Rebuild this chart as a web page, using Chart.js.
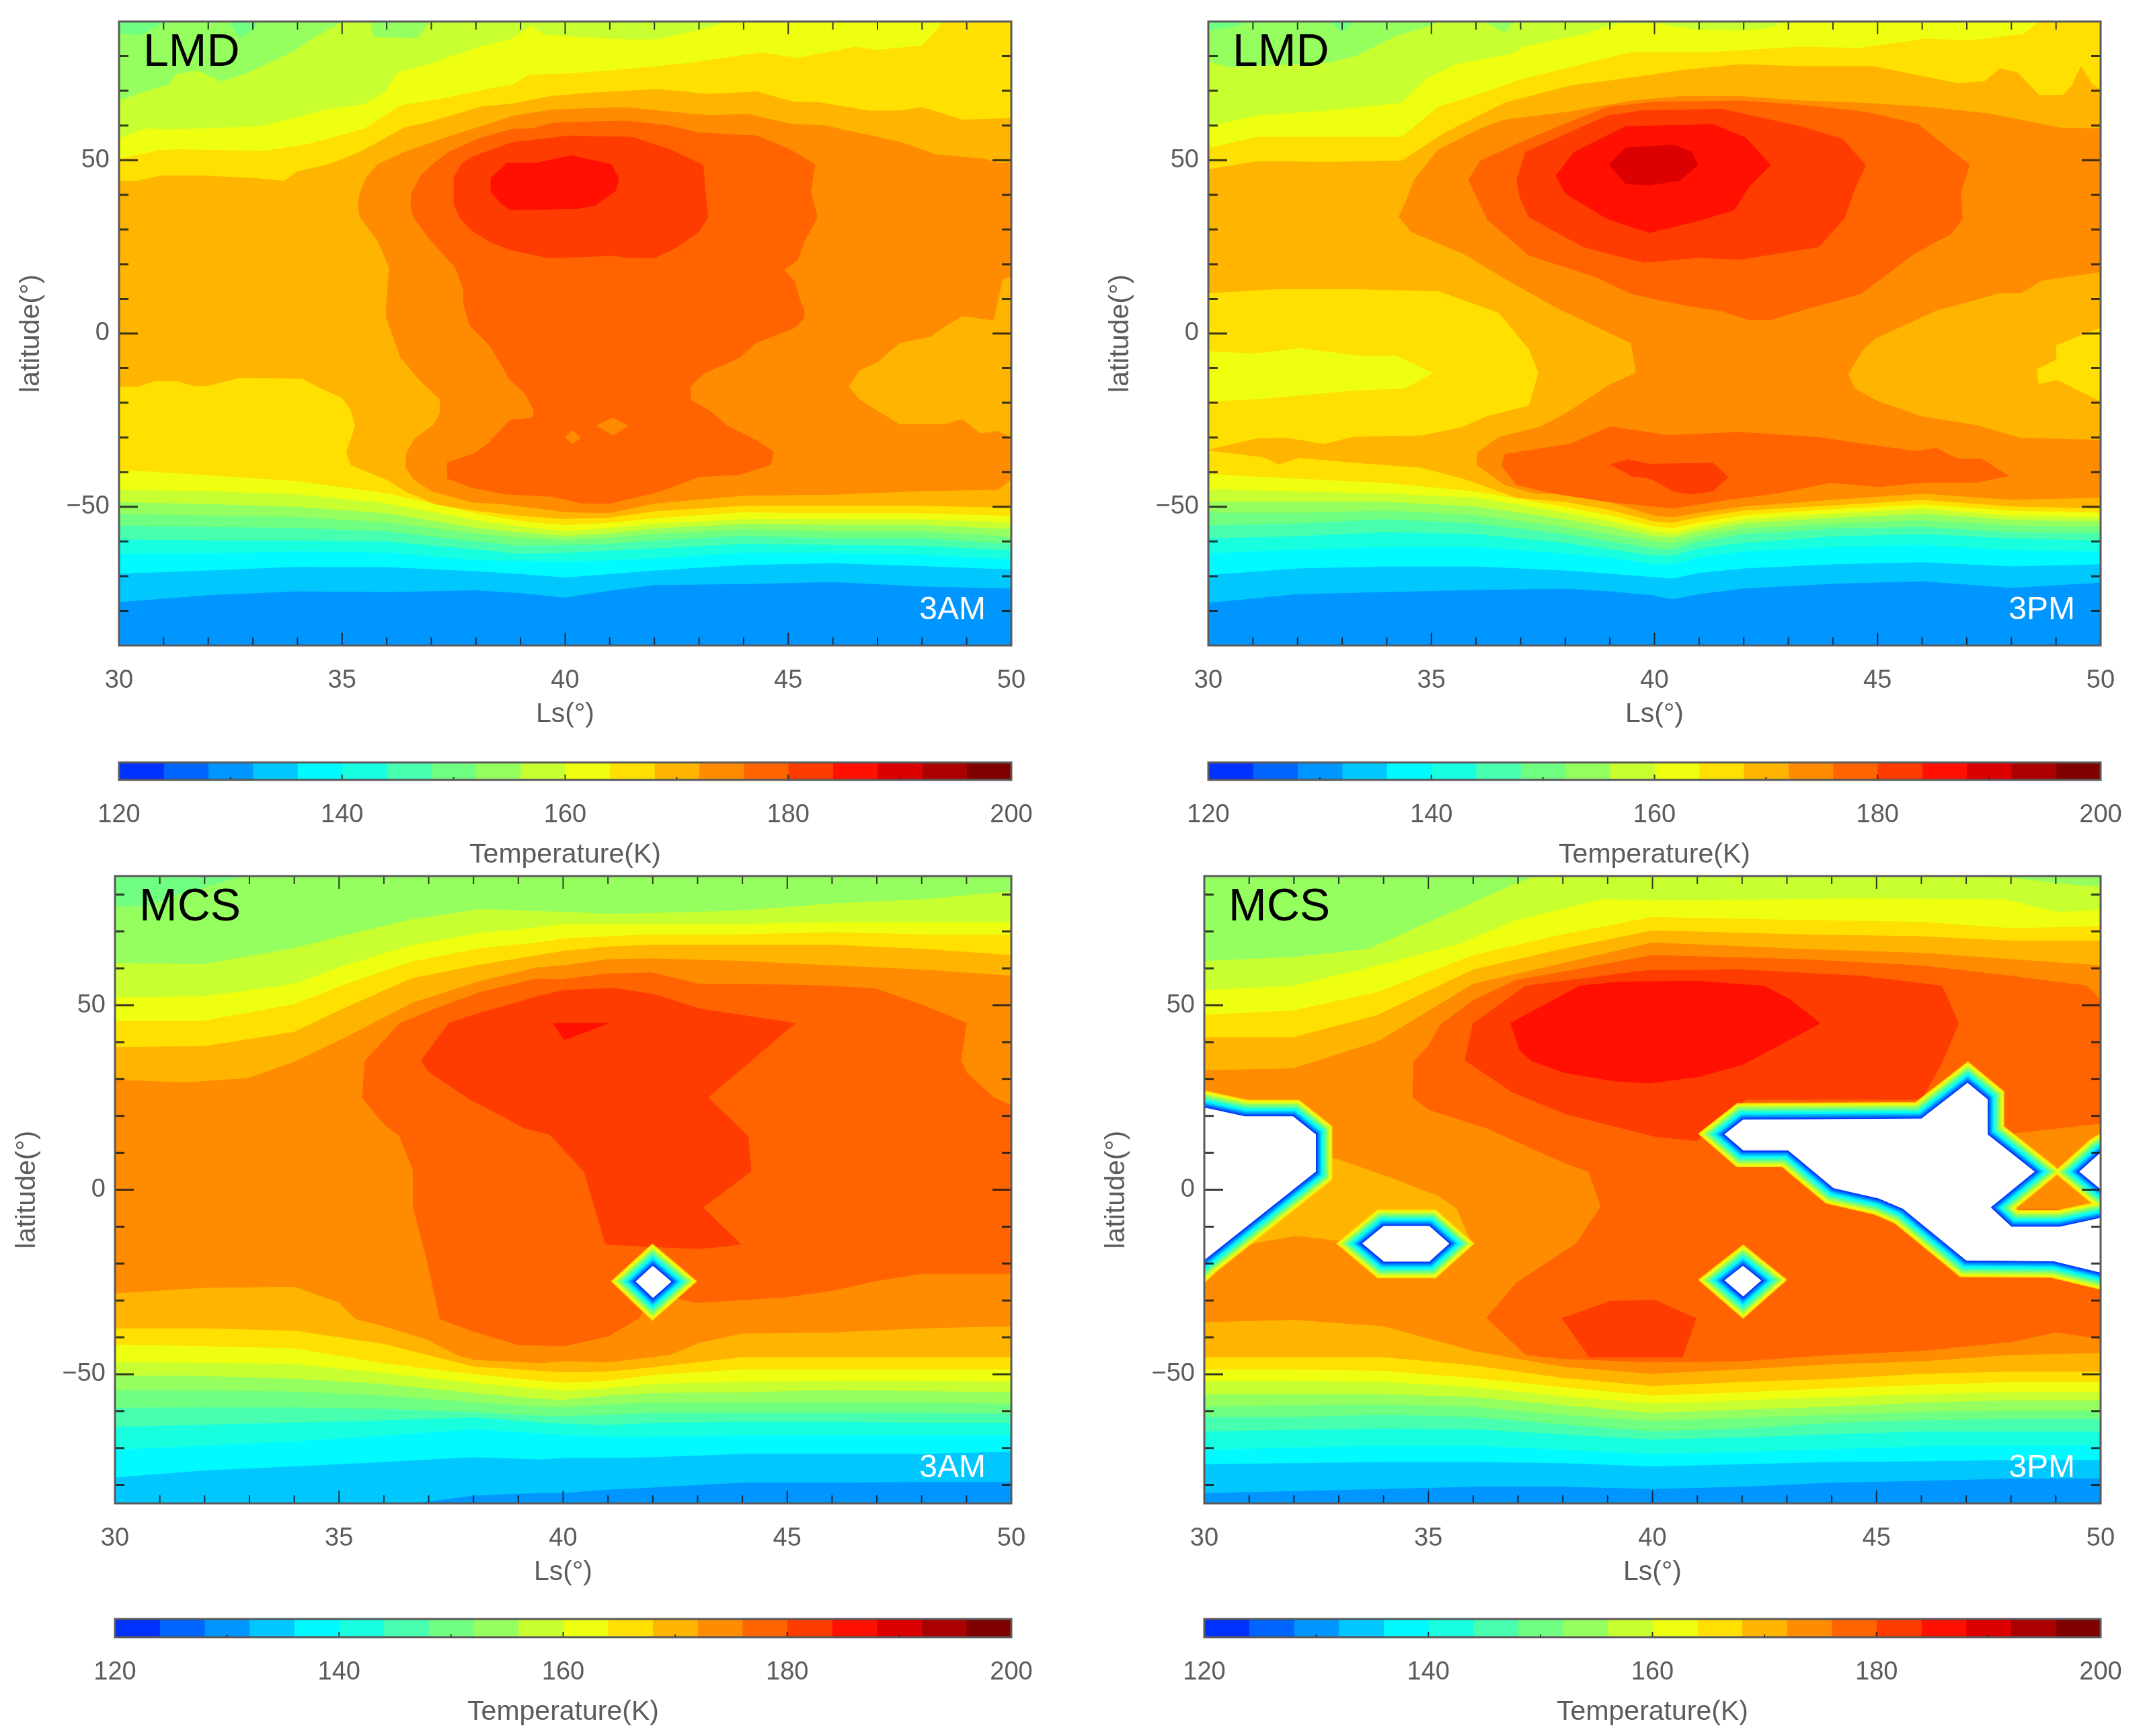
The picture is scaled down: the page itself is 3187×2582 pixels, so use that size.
<!DOCTYPE html>
<html>
<head>
<meta charset="utf-8">
<title>LMD / MCS temperature</title>
<script src="https://cdn.jsdelivr.net/npm/chart.js@4"></script>
<style>
  html, body { margin: 0; background: #fff; }
  canvas { position: absolute; }
</style>
</head>
<body>
<script>
/* =============================
   AXES AND COLOUR BANDS
============================= */
const lsTicks = [30, 35, 40, 45, 50];
const lsMinor = [31, 32, 33, 34, 36, 37, 38, 39, 41, 42, 43, 44, 46, 47, 48, 49];
const latTicks = [-50, 0, 50];
const latMinor = [-80, -70, -60, -40, -30, -20, -10, 10, 20, 30, 40, 60, 70, 80];
const tempTicks = [120, 140, 160, 180, 200];
const tempMinor = [130, 150, 170, 190];
const bandLevels = [120, 124, 128, 132, 136, 140, 144, 148, 152, 156, 160, 164, 168, 172, 176, 180, 184, 188, 192, 196];
const bandColors = ["#0032ff", "#0064ff", "#0096ff", "#00c8ff", "#00faff", "#18ffe0", "#48ffb0", "#70ff80", "#96ff60", "#c8ff30",
  "#eeff10", "#ffe000", "#ffb400", "#ff8c00", "#ff6400", "#ff3c00", "#ff1000", "#dc0000", "#aa0000", "#800000"];

/* =============================
   LMD 3AM  (contours: Ls, latitude)
============================= */
const lmdAmLs = [30, 32, 34, 36, 38, 39, 40, 41, 42, 44, 46, 48, 50];
const lmdAmSouth = [
  [132, -77.4, -75.4, -74.3, -74.5, -74, -74.8, -76.1, -74.1, -72.5, -72.2, -71.6, -72.9, -73.5],
  [136, -69.2, -68.3, -67.2, -67.3, -68.5, -69.3, -70.3, -69.3, -68.3, -66.7, -66.2, -67, -68],
  [140, -63.5, -63.3, -62.8, -63.1, -65.3, -65.5, -65.7, -65.4, -64.8, -63.2, -63.2, -63.8, -65.1],
  [144, -59.3, -59.6, -59.6, -59.9, -62.2, -63.5, -63.2, -62.5, -61.9, -60.6, -60.9, -61.2, -62.5],
  [148, -55.4, -55.7, -56, -57, -59.9, -61.2, -60.9, -60.6, -59.6, -58.3, -59, -59, -60.6],
  [152, -52, -52.4, -52.8, -54.4, -57.6, -58.9, -59.5, -58.8, -57.7, -56.4, -57, -57, -58.6],
  [156, -48.6, -49.1, -49.9, -51.8, -56, -57.3, -58.3, -57.5, -56.2, -54.8, -55.1, -55.1, -56.4],
  [160, -45, -45.4, -46.3, -48.9, -53.8, -55.6, -57, -56, -54.8, -53.5, -53.5, -53.5, -54.4],
  [164, -39.2, -40.8, -42.5, -46, -51.8, -54, -55.2, -54.5, -53.2, -51.5, -51.8, -51.8, -52.5]
];
const lmdAmNorth = {
  152: [30, 86.5, 30.5, 86, 31, 89.5, 31.3, 91, 32.4, 91, 32.7, 85, 33, 87.5, 33.2, 91, 50, 91],
  156: [30, 67, 30.56, 69.7, 31.1, 71.6, 31.3, 74.8, 31.75, 75.8, 32.3, 72.6, 32.9, 75.2, 33.9, 81.2, 34.25, 84.3, 35, 89.9, 35.2, 91, 35.6, 91, 35.7, 85.5, 36.7, 85, 37, 91, 50, 91],
  160: [30, 56.2, 30.6, 59, 31.3, 58.8, 33.2, 59.8, 33.95, 62.2, 34.6, 64.5, 35.5, 66.1, 35.95, 69.3, 36.25, 75.2, 36.95, 77.6, 38.1, 82.7, 38.8, 84.9, 39.25, 88.8, 39.5, 86.2, 40.6, 85.2, 41.7, 84.6, 42.1, 84.9, 43.2, 88.1, 43.9, 91, 50, 91],
  164: [30, 50.3, 30.9, 52.8, 31.3, 53, 33.25, 52.6, 34.25, 54.6, 35.5, 59, 36.3, 65.7, 37.25, 67.7, 38.3, 70.5, 38.8, 71.6, 39.2, 74.6, 40.1, 74.9, 41, 75.8, 41.9, 76.8, 42.9, 78.1, 44.4, 81, 45.2, 79.4, 46.5, 82.6, 47, 81.7, 48, 83, 48.4, 88.5, 48.45, 91, 50, 91]
};
const lmdAmShapes = [
  [168, [30, -15.3, 30.4, -15.3, 30.8, -13.7, 31.3, -13.7, 31.7, -15.1, 32, -15, 32.7, -12.7, 34.1, -12.9, 34.5, -15.6, 35, -18.5, 35.2, -22.1, 35.3, -26.6, 35.1, -34.4, 35.2, -37.9, 36, -42.1, 36.4, -45.4, 37.1, -49.2, 37.9, -50.9, 39, -52.5, 39.7, -53.2, 40, -53.4, 41, -53, 42, -51.2, 44, -49.6, 46, -49.6, 48, -49.6, 50, -50.2],
    [30, 43.9, 30.4, 43.9, 30.95, 45.5, 31.8, 45.5, 33.1, 44.7, 33.7, 43.9, 34, 46.7, 34.7, 48.7, 35.4, 52.3, 36.4, 59.4, 36.95, 60.9, 38.1, 65.3, 38.8, 66.2, 39.7, 68.4, 40.6, 69.4, 42.1, 70.4, 43.2, 69, 44.3, 69.7, 45.1, 66.8, 45.7, 66.6, 46.8, 64.2, 47.5, 64.2, 48, 65.2, 48.9, 61.6, 50, 62]],
  [172, [50, 49.4, 49.75, 49, 49.4, 50.3, 48.3, 51.6, 47.5, 55.2, 45.8, 60, 45.1, 60.3, 44.1, 63.2, 43.2, 62.9, 41.3, 65.2, 39.7, 64.5, 38.8, 62.6, 38.5, 61.3, 37.4, 56.8, 36.46, 52.6, 35.8, 48.8, 35.55, 45, 35.4, 40.5, 35.36, 37, 35.4, 33.6, 35.8, 26.7, 36.06, 19, 36, 9.3, 36, 4.5, 36.3, -6.6, 36.7, -12.9, 37.2, -19.1, 37.2, -22.9, 37.05, -26.4, 36.64, -30.2, 36.45, -34.3, 36.42, -38.5, 36.6, -42, 37, -45.4, 37.9, -48.6, 38.6, -49.2, 39.7, -50.9, 40, -51.5, 41, -51.7, 42, -49, 44, -46.7, 46, -46.4, 48, -45.4, 49.7, -45, 50, -42, 50, -30.2, 49.7, -28.2, 49.3, -28.9, 48.9, -24.8, 48.5, -26.3, 47.5, -26.3, 46.6, -19.2, 46.35, -15.3, 46.6, -10.5, 47, -8.2, 47.5, -2.7, 48.2, -0.8, 48.5, 2, 48.9, 5.1, 49.6, 3.9, 49.8, 15.7, 50, 16.5]],
  [176, [36.73, 45, 37.03, 48.8, 37.39, 52.3, 38.04, 56.1, 38.8, 58.9, 39.27, 59.1, 39.77, 60.8, 41.36, 61.3, 42.3, 60, 42.95, 58, 43.8, 57.3, 44.3, 57, 45, 53.3, 45.6, 48.8, 45.5, 40.9, 45.65, 33.6, 45.36, 26.6, 45.2, 21.1, 44.9, 18.3, 45.15, 14.9, 45.25, 10, 45.36, 6.5, 45.34, 4.1, 45.15, 1.7, 44.3, -2.5, 43.9, -7, 43.1, -11.5, 42.8, -15.3, 42.8, -19.1, 43.27, -22.6, 43.6, -26.4, 44.3, -30.9, 44.67, -34.2, 44.6, -37.9, 43.9, -40.7, 43, -41.3, 42.3, -44.7, 42, -46, 41, -49, 40.4, -49, 39.7, -47, 38.64, -46.3, 37.9, -44.4, 37.36, -41.8, 37.36, -37.3, 37.95, -34.7, 38.27, -31.8, 38.76, -25, 39.27, -24.4, 39.3, -22.2, 39.12, -17.7, 38.76, -13.2, 38.33, -3.8, 37.86, 2.4, 37.72, 8.6, 37.72, 12.8, 37.54, 19, 36.96, 27.3, 36.6, 33.6, 36.54, 37.7, 36.56, 40.5]],
  [172, [40.7, -26.6, 41.07, -24.4, 41.4, -26.6, 41.07, -29.4]],
  [172, [40.16, -27.8, 40.34, -30.2, 40.16, -31.8, 40, -29.9]],
  [180, [37.5, 45, 37.68, 48.8, 37.86, 50.6, 38.8, 55.1, 39.5, 56.1, 40.06, 57, 41.5, 56.6, 42.37, 53, 43.09, 48.5, 43.13, 41.9, 43.2, 33.6, 43, 29.4, 42.5, 24.9, 42, 21.8, 41.4, 21.9, 41.07, 22.5, 40.35, 22.1, 39.63, 21.8, 38.76, 24.2, 38.33, 26.3, 37.9, 29.8, 37.65, 33.2, 37.5, 37.4]],
  [184, [38.33, 44.7, 38.69, 49.2, 39.38, 49.2, 40.13, 51.3, 41.03, 48.8, 41.2, 44.7, 41.13, 41.2, 40.67, 37, 40.28, 36, 38.76, 35.7, 38.55, 37.7, 38.33, 40.9]]
];

/* =============================
   LMD 3PM
============================= */
const lmdPmLs = [30, 32, 34, 36, 38, 39, 40, 40.4, 41, 42, 44, 46, 48, 50];
const lmdPmSouth = [
  [132, -77.6, -75.1, -74.5, -73.9, -73.5, -74.3, -75.5, -76.6, -75.1, -73.5, -72.1, -71.4, -73.3, -71.8],
  [136, -69.6, -67.7, -67.1, -67.1, -68.3, -69.2, -70.2, -70.6, -69, -67.7, -66.5, -65.9, -67.1, -66.5],
  [140, -63.4, -62.2, -61.5, -61.5, -63.4, -64.6, -66.5, -66.5, -64.4, -62.8, -61.5, -60.9, -62.4, -62.8],
  [144, -59, -58.4, -57.2, -57.8, -60.3, -62.2, -64, -64, -61.9, -60.3, -58.4, -57.8, -59, -59.7],
  [148, -55.3, -54.7, -53.5, -54.7, -57.8, -59.9, -61.9, -62.2, -59.9, -57.8, -56.2, -55.7, -57.2, -57.5],
  [152, -51.6, -51.6, -51, -52.3, -55.7, -57.8, -59.9, -60.3, -58.4, -56.2, -54.7, -53.7, -55.3, -55.7],
  [156, -48.5, -48.5, -48.5, -49.8, -53.5, -55.7, -58.4, -58.7, -57, -54.7, -53.1, -51.9, -53.7, -54.1],
  [160, -44.8, -45.5, -46.1, -47.3, -51.6, -54.1, -57, -57.5, -55.7, -53.5, -51.9, -50.4, -52.5, -52.9],
  [164, -40.5, -41.8, -43, -45.5, -50, -52.3, -55.6, -56, -54.5, -52.3, -50.6, -49.2, -51, -51.6]
];
const lmdPmNorth = {
  152: [30, 87.5, 30.55, 88.2, 31.09, 91, 32.6, 91, 33, 86.9, 33.4, 91, 50, 91],
  156: [30, 78.3, 30.48, 76.7, 32.7, 78, 33.33, 80.1, 34.2, 85.7, 35, 88.8, 35.29, 91, 36.1, 91, 36.64, 86.5, 36.91, 91, 50, 91],
  160: [30, 59.7, 31.09, 62.8, 32.72, 64.3, 34.34, 66.5, 34.88, 73.3, 35.56, 77.6, 36.84, 80.7, 37.05, 82.6, 38.4, 86.3, 39.21, 89.4, 40, 89.4, 40.97, 87.5, 42.05, 87.3, 42.73, 88.5, 42.93, 91, 50, 91],
  164: [30, 53.5, 31.09, 56.6, 32.72, 56.6, 34.34, 56.6, 35.15, 65.3, 36.37, 70.2, 36.91, 72.9, 39.48, 81.1, 41.24, 81.1, 43.27, 82.6, 44.62, 82.3, 46.11, 85, 47.06, 84.4, 48.28, 86.3, 48.62, 90, 48.63, 91, 50, 91]
};
const lmdPmShapes = [
  [168, [30, -33.7, 31.23, -35.6, 31.57, -37.7, 32.04, -35.8, 33.26, -37.2, 34.75, -38.6, 35.69, -41.7, 36.91, -47.3, 38, -48.5, 39, -50.8, 40, -54.1, 40.4, -54.5, 41, -52.9, 42, -51, 44, -49.5, 46, -47.9, 48, -49.8, 50, -50.4],
    [30, 47.3, 31.09, 49.6, 32.72, 49.4, 34.34, 49.8, 35.29, 57.8, 36.64, 66.5, 38.13, 71.5, 39.48, 73.7, 40.57, 75.8, 41.92, 77.6, 43.27, 77, 44.9, 77, 46.11, 73.9, 46.8, 72.1, 47.4, 72.7, 47.74, 76.4, 48.14, 75.2, 48.62, 68.7, 49.16, 68.7, 49.36, 71.5, 49.56, 77, 49.79, 72.1, 50, 70.2]],
  [172, [50, 59.1, 49.09, 59.3, 48.48, 60.9, 47.47, 63.4, 46.11, 65.3, 44.62, 66.5, 43.27, 67.1, 41.92, 68.4, 40.57, 68.4, 39.48, 67.1, 38.13, 64, 36.64, 61.6, 36.1, 59.1, 35.15, 52.9, 34.61, 44.2, 34.41, 37.4, 34.27, 33.7, 34.54, 29.4, 35.69, 23.2, 36.91, 13.9, 37.86, 7.1, 38.67, 2.2, 39.48, -2.8, 39.59, -11.4, 39, -14.8, 38, -23.2, 37.45, -26.9, 36.5, -30, 36.03, -34.3, 36.03, -38, 36.64, -43.6, 37.32, -46.1, 38, -46.2, 39, -48.5, 40, -52.5, 40.4, -52.9, 41, -51.6, 42, -49.8, 44, -47.9, 46, -46.1, 48, -47.9, 50, -47.3]],
  [164, [30, 11.5, 31.5, 12.7, 33.26, 12.7, 35.15, 12.1, 36.5, 5.9, 37.18, -4.6, 37.39, -11.4, 37.18, -20.7, 36.24, -23.8, 35.69, -26.9, 34.75, -29.4, 33.26, -29.7, 32.58, -31.8, 31.77, -30, 31.09, -30.2, 30.55, -31.8, 30, -33.4]],
  [160, [30, -5.2, 31.03, -5.9, 32.04, -4.3, 33.39, -6.5, 34.2, -6.5, 35.02, -11.4, 34.41, -15.8, 33.26, -16.4, 31.09, -18.9, 30, -19.5]],
  [168, [50, 17.6, 48.7, 15.2, 48.21, 11.5, 47.74, 11.5, 46.32, 6.5, 44.96, -1.5, 44.69, -4.6, 44.35, -11.7, 44.49, -15.8, 45.03, -19.5, 45.98, -23.8, 47.2, -26.3, 48.21, -30, 50, -30.6]],
  [164, [50, 1.6, 49.02, -3.4, 49.02, -7.5, 48.58, -10.4, 48.62, -14.5, 49.02, -13.3, 50, -19.5]],
  [176, [35.83, 44.2, 36.1, 49.8, 37.05, 55.4, 37.86, 59.7, 38.94, 65.3, 40.02, 66.8, 41.92, 67.1, 43.27, 65.9, 44.76, 63.8, 45.91, 60.3, 47.06, 48.6, 46.86, 40.5, 46.9, 33.1, 46.65, 28.8, 45.84, 23.2, 44.63, 11.5, 43.41, 7.1, 42.6, 4, 42.12, 4, 41.51, 6.5, 40.57, 8.4, 39.48, 11.5, 38.67, 16.4, 37.18, 22.6, 36.24, 33.1]],
  [176, [36.57, -38, 36.91, -43.6, 37.72, -46.1, 38.94, -48.5, 40.43, -50.4, 41.65, -47.9, 42.73, -46.1, 43.95, -43, 45.03, -44.2, 45.98, -43, 47.2, -43, 47.94, -41.1, 47.33, -36.2, 46.79, -36.2, 46.32, -33.1, 45.84, -34, 44.63, -31.8, 43.68, -30, 41.92, -28.5, 40.3, -29.4, 39.01, -26.9, 38.13, -31.8, 36.64, -34.9]],
  [180, [36.91, 44.2, 37.11, 52.3, 37.86, 56.6, 38.94, 62.8, 39.75, 64.3, 41.51, 64.7, 43.27, 59.7, 44.22, 56, 44.73, 48.6, 44.49, 41.8, 44.25, 33.1, 43.68, 25, 41.92, 21.4, 40.97, 21.9, 39.75, 20.5, 38.4, 25, 37.18, 33.7, 36.98, 39.3]],
  [180, [39.01, -37.8, 39.42, -36.4, 39.89, -37.7, 41.31, -37.4, 41.65, -41.4, 41.31, -45.5, 40.84, -46.3, 40.43, -45.5, 39.89, -41.7, 39.48, -41.1]],
  [184, [37.79, 45.5, 38.2, 52.3, 39.35, 59.7, 41.31, 60.3, 42.05, 56.4, 42.6, 48.6, 42.12, 42.4, 41.78, 35.6, 40.97, 32.5, 39.89, 29.1, 38.94, 33.1, 37.99, 40.5]],
  [188, [38.98, 48.6, 39.35, 53.5, 40.43, 54.4, 40.84, 52.3, 40.97, 48.6, 40.57, 44.2, 39.89, 42.8, 39.35, 43.2]]
];

/* =============================
   MCS 3AM
============================= */
const mcsAmLs = [30, 32, 34, 36, 38, 39.5, 40, 41, 42, 44, 46, 48, 50];
const mcsAmSouth = [
  [132, -90, -90, -90, -86, -82.8, -82.1, -82.1, -81.2, -80.6, -79.3, -79.3, -79.1, -79.1],
  [136, -77.9, -76, -74.9, -73.7, -72.4, -73, -72.6, -72.6, -72.4, -71.5, -71.5, -71.5, -70.9],
  [140, -70.4, -69.3, -68.1, -66.6, -64.8, -66, -66.5, -66.8, -66.8, -66.5, -66.5, -66.5, -66.5],
  [144, -64.2, -63.6, -63, -62.4, -61.6, -63, -63.3, -63.7, -63.1, -62.8, -62.8, -63.1, -63.1],
  [148, -59, -58.9, -58.9, -59.3, -60.2, -61.2, -61.2, -60.9, -60.4, -60.4, -60.4, -60.4, -60.6],
  [152, -54.2, -54.3, -54.6, -55.7, -57.5, -58.7, -58.9, -58.1, -57.6, -57.6, -57.6, -57.6, -57.9],
  [156, -50.2, -50.4, -51.1, -52.6, -55, -56.6, -56.9, -55.7, -55, -54.8, -54.2, -54.5, -54.8],
  [160, -46.6, -46.8, -47.2, -49.6, -52.3, -53.9, -54.5, -53.7, -52.5, -52, -51.7, -51.7, -51.9],
  [164, -41.9, -42.3, -42.9, -46.9, -49.9, -51.7, -52.2, -51.7, -50.1, -48.6, -48.6, -48.6, -48.6],
  [168, -37.5, -37.5, -38.1, -41.7, -47.8, -49, -49.4, -49.2, -48, -45.3, -45.3, -45.3, -45.3]
];
const mcsAmNorth = {
  152: [30, 76.6, 30.8, 77, 31.4, 79.9, 32.3, 82.9, 33, 85.5, 50, 91],
  156: [30, 61.3, 32, 61.1, 34, 65.4, 35.09, 68.8, 36.62, 73.2, 38.15, 76, 39.44, 75.4, 40, 75.2, 41, 74.7, 42, 74.9, 44, 75.6, 46, 77.5, 48, 78.6, 50, 80.8],
  160: [30, 52, 32, 52.4, 34, 55.7, 35.09, 60.6, 36.62, 66.2, 38.15, 69.5, 39.44, 71, 40, 71.9, 42, 71.9, 44, 71.9, 46, 72.5, 48, 72.5, 50, 72.5],
  164: [30, 45.7, 32, 45.7, 34, 50.2, 35.09, 55.4, 36.62, 61.7, 38.15, 65.4, 39.44, 66.9, 40, 68, 41, 68.6, 42, 69.1, 44, 69.1, 46, 69.7, 48, 69.1, 50, 69.1],
  168: [30, 38.6, 32, 38.8, 34, 42.7, 35.09, 49, 36.62, 57.2, 38.15, 60.9, 39.44, 63.5, 40, 64.6, 41, 65.8, 42, 66.3, 44, 66.3, 46, 66.3, 48, 65.2, 50, 63.5]
};
const mcsAmShapes = [
  [172, [30, -28, 32, -26.5, 34, -26.2, 35, -30.5, 35.37, -35, 36, -36.9, 36.95, -40.5, 37.68, -45, 38, -46, 39.5, -46.9, 40, -46.4, 41, -46.7, 42.38, -44.7, 43.04, -41.4, 44, -38.9, 46, -38.6, 48, -37.5, 50, -36.9],
    [30, 29.7, 31.56, 29, 32.94, 30.1, 34.01, 34.6, 35.09, 40.9, 36.62, 50.5, 38.15, 56.5, 39.44, 60.2, 40, 60.7, 41, 62.4, 42, 62.6, 44, 61.9, 46, 60.7, 48, 59.6, 50, 57.9]],
  [176, [39.44, 57.2, 38.15, 53.5, 37.08, 48.7, 36.35, 45, 35.58, 34.9, 35.52, 24.9, 36, 17.8, 36.35, 14.5, 36.66, 5.2, 36.66, -4.9, 36.98, -19.8, 37.25, -35, 38, -38.4, 39, -42, 40.03, -42.3, 40.48, -41.1, 41, -39.7, 41.7, -34.7, 42, -28, 43, -30.6, 44.95, -29.1, 45.95, -27.4, 47.02, -24.6, 48.02, -22.7, 50, -22.7, 50, 22.8, 49.6, 25, 49, 31.7, 48.87, 35.1, 49, 45.1, 48, 50.1, 46.98, 54.4, 45.95, 55.2, 44.95, 55.5, 43.04, 55.7, 41.97, 58.8, 40.97, 58.5, 40.01, 57]],
  [180, [37.46, 45.3, 36.83, 34.9, 37, 32, 37.92, 24.5, 39.15, 16.7, 39.7, 15, 40.47, 4.9, 40.7, -4.55, 40.95, -14.8, 42.12, -15.5, 43.04, -16, 43.96, -14.8, 43.12, -4.8, 44.19, 4.9, 44.13, 14.4, 43.23, 25, 45.17, 45.1, 43.04, 49, 42.04, 52.9, 41.12, 54.6, 40.01, 54, 39.44, 52.4, 38.15, 47.9]],
  [184, [39.78, 45.1, 41.01, 45.1, 40.01, 40.6]]
];
const mcsAmHoles = [
  [41.62, -24.9, 42, -20.7, 42.41, -24.9, 42, -29.3]
];

/* =============================
   MCS 3PM
============================= */
const mcsPmLs = [30, 32, 34, 36, 38, 40, 42, 44, 46, 48, 50];
const mcsPmSouth = [
  [132, -82.1, -81.6, -81, -80.4, -80.4, -81, -80.4, -79.3, -78.8, -78.2, -78.2],
  [136, -74.3, -74, -73.7, -73.7, -74, -74.9, -74.3, -73.7, -73.5, -73.2, -73.2],
  [140, -70.4, -69.8, -69.3, -69.3, -70.4, -71.5, -71, -70.2, -69.5, -69.3, -69.3],
  [144, -65.4, -65, -64.6, -64.8, -66.2, -67.6, -67, -66.2, -65.4, -65.4, -65.4],
  [148, -61.5, -61.5, -60.9, -61.5, -63.5, -65.4, -64.6, -63.1, -62.4, -62, -62],
  [152, -58.7, -58.3, -58.1, -58.7, -60.9, -62.6, -61.7, -60.9, -60.1, -59.8, -59.8],
  [156, -55.3, -55.3, -55.3, -56.1, -58.3, -60.4, -59.5, -58.7, -57.6, -57, -57],
  [160, -51.7, -51.7, -52, -53.4, -55.9, -57.9, -57, -56.1, -55.3, -54.8, -54.8],
  [164, -48.6, -48.6, -49, -50.9, -53.4, -55.7, -54.8, -53.7, -52.8, -52, -52],
  [168, -45.3, -45.3, -45.3, -47.5, -50.9, -53.1, -52, -51.2, -49.8, -49.2, -49.2],
  [172, -35.8, -35.2, -36.9, -43.6, -47.9, -49.8, -48.6, -47.2, -46.4, -44.7, -44.2]
];
const mcsPmNorth = {
  156: [30, 61.9, 31.98, 63, 33.67, 65.2, 35.22, 73.6, 36.97, 83, 37.5, 85.4, 46.5, 85.5, 48, 84.5, 49, 83, 50, 82],
  160: [30, 54, 31.98, 55.2, 33.87, 60.7, 35.62, 66.3, 36.97, 73, 38.85, 78.6, 40.6, 78.3, 44.65, 78.9, 47.88, 78.6, 49.02, 75.2, 50, 75.8],
  164: [30, 47.3, 31.98, 48.5, 33.87, 53.5, 36, 63.5, 37.99, 69.1, 40, 73.8, 43.3, 73, 46, 72.5, 48, 70.8, 50, 71.3],
  168: [30, 41.2, 31.98, 41.2, 33.87, 47.3, 36, 59.6, 37.99, 65.2, 40, 70.2, 43.3, 69.1, 46, 68.6, 48, 67.4, 50, 67.4],
  172: [30, 32.3, 31.98, 32.8, 33.87, 40.1, 36, 55.7, 37.99, 61.3, 40, 66.9, 43.3, 65.2, 46, 64.1, 48, 62.4, 50, 60.7]
};
const mcsPmShapes = [
  [168, [30, 12, 32.95, 8.3, 34.27, 2.7, 35.22, -1.8, 35.62, -5.1, 35.96, -14.6, 34.95, -16.8, 33.13, -14, 32.05, -12.4, 31.04, -14.6, 30, -20.7]],
  [176, [34.68, 35, 34.65, 25, 35.02, 21.7, 36.3, 16.7, 38.05, 7.2, 38.58, 4.9, 38.85, -4.55, 38.3, -14.6, 36.97, -25.2, 36.3, -34.7, 37.17, -44.7, 38, -45.8, 40, -46.7, 42, -46.4, 44, -44.7, 46, -43.6, 48, -41.2, 49, -38.6, 50, -40.3, 50, 51.3, 49.7, 55.2, 48, 57.9, 46, 60.7, 43.3, 62.4, 40, 63.5, 37.99, 59, 36.97, 56.8, 36, 51.3, 35.28, 44.8, 35, 39]],
  [172, [47.94, 15, 50, 17.8, 50, -5.1, 47.94, -5.1, 48.95, 4.9]],
  [180, [35.82, 35, 36, 45.1, 37.17, 55.2, 39.86, 59.4, 41.95, 59.6, 44.65, 57.9, 46.46, 55.2, 46.83, 45.1, 46.46, 34.5, 46, 24.5, 42.09, 24.5, 41, 13.3, 40.07, 14.4, 38.05, 20.6, 36.83, 26.7]],
  [180, [37.98, -34.9, 39.06, -30.2, 40.07, -30, 40.97, -34.9, 40.67, -45.3, 38.58, -45.3]],
  [184, [36.83, 45.1, 38.38, 55.2, 39.26, 56.3, 41.01, 56.5, 42.49, 55.2, 43.1, 51.3, 43.74, 45.1, 42.02, 33.96, 41.01, 30.6, 39.93, 28.9, 39.12, 29.5, 38.05, 31.7, 37.3, 35, 37.03, 37.9]]
];
const mcsPmHoles = [
  [29.3, 24, 30, 22.2, 30.91, 19.8, 31.98, 19.8, 32.48, 15, 32.48, 4.9, 30, -19, 29.3, -27],
  [33.53, -14.6, 34, -9.9, 35.02, -9.9, 35.46, -14.6, 35.02, -19.4, 34, -19.4],
  [41.61, -24.6, 42.02, -20.7, 42.42, -24.6, 42.02, -28.9],
  [41.61, 15, 42.02, 18.9, 46, 19.2, 47.03, 28.9, 47.47, 24.5, 47.47, 15, 48.52, 4.9, 47.54, -4.8, 48.01, -10.1, 49.09, -10.1, 50, -7.7, 50.7, -5, 50.7, -24, 50, -22.4, 48.95, -19.3, 47, -19.1, 45.59, -5.1, 45.05, -2.3, 44.04, 0.5, 43.03, 10.7, 42.02, 10.7],
  [50, 10, 49.53, 4.9, 50, 0.2, 50.7, -5, 50.7, 15]
];

/* =============================
   PANELS
============================= */
const panels = [
  { name: "LMD", time: "3AM", x0: 177, x1: 1504, y0: 32, y1: 960, latMax: 90, barTop: 1134, barH: 26,
    ls: lmdAmLs, south: lmdAmSouth, north: lmdAmNorth, shapes: lmdAmShapes, holes: [] },
  { name: "LMD", time: "3PM", x0: 1797, x1: 3124, y0: 32, y1: 960, latMax: 90, barTop: 1134, barH: 26,
    ls: lmdPmLs, south: lmdPmSouth, north: lmdPmNorth, shapes: lmdPmShapes, holes: [] },
  { name: "MCS", time: "3AM", x0: 171, x1: 1504, y0: 1303, y1: 2236, latMax: 85, barTop: 2408, barH: 27,
    ls: mcsAmLs, south: mcsAmSouth, north: mcsAmNorth, shapes: mcsAmShapes, holes: mcsAmHoles },
  { name: "MCS", time: "3PM", x0: 1791, x1: 3124, y0: 1303, y1: 2236, latMax: 85, barTop: 2408, barH: 27,
    ls: mcsPmLs, south: mcsPmSouth, north: mcsPmNorth, shapes: mcsPmShapes, holes: mcsPmHoles }
];

const FONT = "'Liberation Sans', Arial, sans-serif";
const TEXT_COLOR = "#5c5c5c";
const FRAME_COLOR = "#5a5a5a";
const TICK_COLOR = "rgba(25,25,25,0.85)";

Chart.defaults.font.family = FONT;
Chart.defaults.animation = false;

function colorOf(level) {
  return bandColors[bandLevels.indexOf(level)];
}

function toPoints(flat) {
  const pts = [];
  for (let i = 0; i < flat.length; i += 2) pts.push({ x: flat[i], y: flat[i + 1] });
  return pts;
}

function fillSet(points, color) {
  return {
    data: points,
    showLine: true,
    fill: "shape",
    backgroundColor: color,
    borderColor: color,
    borderWidth: 1,
    pointRadius: 0,
    tension: 0,
    clip: 0
  };
}

function mapDatasets(p) {
  const sets = [fillSet(toPoints([29, -91, 51, -91, 51, 91, 29, 91]), colorOf(128))];

  p.south.forEach(row => {
    const level = row[0];
    const southPts = p.ls.map((ls, i) => ({ x: ls, y: row[i + 1] }));
    const northPts = p.north[level] ? toPoints(p.north[level]) : [{ x: 30, y: 91 }, { x: 50, y: 91 }];
    sets.push(fillSet(southPts.concat(northPts.reverse()), colorOf(level)));
  });

  p.shapes.forEach(s => {
    const pts = toPoints(s[1]);
    const all = s[2] ? pts.concat(toPoints(s[2]).reverse()) : pts;
    sets.push(fillSet(all, colorOf(s[0])));
  });

  // missing data: white holes with a steep ring through the colour bands
  const ringTop = bandLevels.indexOf(164);
  for (let i = ringTop; i >= 0; i--) {
    p.holes.forEach(h => {
      const pts = toPoints(h);
      sets.push({
        data: pts.concat(pts.slice(0, 2)),
        showLine: true,
        fill: false,
        borderColor: bandColors[i],
        borderWidth: (i + 1) * 4.2,
        borderJoinStyle: "miter",
        pointRadius: 0,
        tension: 0,
        clip: 0
      });
    });
  }
  p.holes.forEach(h => sets.push(fillSet(toPoints(h), "#ffffff")));

  return sets.reverse(); // first dataset is painted last
}

/* =============================
   FRAME, TICK MARKS, LABELS
============================= */
const mapMarks = {
  id: "mapMarks",
  afterDatasetsDraw(chart, args, opts) {
    const { ctx, chartArea: a, scales } = chart;
    ctx.save();
    ctx.strokeStyle = TICK_COLOR;

    const vTick = (v, len) => {
      const x = scales.x.getPixelForValue(v);
      ctx.beginPath();
      ctx.moveTo(x, a.top); ctx.lineTo(x, a.top + len);
      ctx.moveTo(x, a.bottom); ctx.lineTo(x, a.bottom - len);
      ctx.stroke();
    };
    const hTick = (v, len) => {
      const y = scales.y.getPixelForValue(v);
      ctx.beginPath();
      ctx.moveTo(a.left, y); ctx.lineTo(a.left + len, y);
      ctx.moveTo(a.right, y); ctx.lineTo(a.right - len, y);
      ctx.stroke();
    };
    ctx.lineWidth = 2;
    lsTicks.forEach(v => vTick(v, 19));
    lsMinor.forEach(v => vTick(v, 12));
    ctx.lineWidth = 3;
    latTicks.forEach(v => hTick(v, 28));
    latMinor.forEach(v => hTick(v, 14));

    ctx.strokeStyle = FRAME_COLOR;
    ctx.lineWidth = 3;
    ctx.strokeRect(a.left, a.top, a.right - a.left, a.bottom - a.top);

    ctx.textBaseline = "alphabetic";
    ctx.fillStyle = "#000";
    ctx.textAlign = "left";
    ctx.font = "68px " + FONT;
    ctx.fillText(opts.name, a.left + 36, a.top + 66);
    ctx.fillStyle = "#fff";
    ctx.textAlign = "right";
    ctx.font = "48px " + FONT;
    ctx.fillText(opts.time, a.right - 38, a.bottom - 39);
    ctx.restore();
  }
};

const barMarks = {
  id: "barMarks",
  afterDatasetsDraw(chart) {
    const { ctx, chartArea: a, scales } = chart;
    ctx.save();
    ctx.strokeStyle = TICK_COLOR;
    ctx.lineWidth = 2;
    const tick = (v, len) => {
      const x = scales.x.getPixelForValue(v);
      ctx.beginPath();
      ctx.moveTo(x, a.bottom); ctx.lineTo(x, a.bottom - len);
      ctx.stroke();
    };
    tempTicks.forEach(v => tick(v, 8));
    tempMinor.forEach(v => tick(v, 4));
    ctx.strokeStyle = FRAME_COLOR;
    ctx.lineWidth = 3;
    ctx.strokeRect(a.left, a.top, a.right - a.left, a.bottom - a.top);
    ctx.restore();
  }
};

function addCanvas(left, top, width, height) {
  const c = document.createElement("canvas");
  c.width = width;
  c.height = height;
  c.style.left = left + "px";
  c.style.top = top + "px";
  c.style.width = width + "px";
  c.style.height = height + "px";
  document.body.appendChild(c);
  return c;
}

function tickLabel(value) {
  return String(value).replace("-", "\u2212");
}

/* =============================
   BUILD
============================= */
panels.forEach(p => {
  const leftBox = 155, rightPad = 60, topPad = 30, bottomBox = 127;
  const mapCanvas = addCanvas(p.x0 - leftBox, p.y0 - topPad,
    leftBox + (p.x1 - p.x0) + rightPad, topPad + (p.y1 - p.y0) + bottomBox);

  new Chart(mapCanvas, {
    type: "scatter",
    data: { datasets: mapDatasets(p) },
    options: {
      responsive: false,
      devicePixelRatio: 1,
      layout: { autoPadding: false, padding: { left: 0, right: rightPad, top: topPad, bottom: 0 } },
      plugins: {
        legend: { display: false },
        tooltip: { enabled: false },
        mapMarks: { name: p.name, time: p.time }
      },
      scales: {
        x: {
          type: "linear", min: 30, max: 50,
          grid: { display: false }, border: { display: false },
          afterBuildTicks: s => { s.ticks = lsTicks.map(v => ({ value: v })); },
          afterFit: s => { s.height = bottomBox; },
          ticks: { color: TEXT_COLOR, font: { size: 38 }, padding: 22, maxRotation: 0, autoSkip: false },
          title: { display: true, text: "Ls(\u00b0)", color: TEXT_COLOR, font: { size: 41 }, padding: 0 }
        },
        y: {
          type: "linear", min: -p.latMax, max: p.latMax,
          grid: { display: false }, border: { display: false },
          afterBuildTicks: s => { s.ticks = latTicks.map(v => ({ value: v })); },
          afterFit: s => { s.width = leftBox; },
          ticks: { color: TEXT_COLOR, font: { size: 38 }, padding: 6, autoSkip: false, callback: tickLabel },
          title: { display: true, text: "latitude(\u00b0)", color: TEXT_COLOR, font: { size: 41 }, padding: 0 }
        }
      }
    },
    plugins: [mapMarks]
  });

  // colour bar
  const barLeft = 60, barBottom = 136;
  const barCanvas = addCanvas(p.x0 - barLeft, p.barTop - 3,
    barLeft + (p.x1 - p.x0) + rightPad, 3 + p.barH + barBottom);

  new Chart(barCanvas, {
    type: "bar",
    data: {
      labels: [""],
      datasets: bandLevels.map((level, i) => ({
        data: [[level, level + 4]],
        backgroundColor: bandColors[i],
        borderWidth: 0,
        borderSkipped: false,
        grouped: false,
        barPercentage: 1,
        categoryPercentage: 1
      }))
    },
    options: {
      indexAxis: "y",
      responsive: false,
      devicePixelRatio: 1,
      layout: { autoPadding: false, padding: { left: barLeft, right: rightPad, top: 3, bottom: 0 } },
      plugins: { legend: { display: false }, tooltip: { enabled: false } },
      scales: {
        y: { type: "category", display: false },
        x: {
          type: "linear", min: 120, max: 200,
          grid: { display: false }, border: { display: false },
          afterBuildTicks: s => { s.ticks = tempTicks.map(v => ({ value: v })); },
          afterFit: s => { s.height = barBottom; },
          ticks: { color: TEXT_COLOR, font: { size: 38 }, padding: 22, maxRotation: 0, autoSkip: false },
          title: { display: true, text: "Temperature(K)", color: TEXT_COLOR, font: { size: 41 }, padding: 0 }
        }
      }
    },
    plugins: [barMarks]
  });
});
</script>
</body>
</html>
